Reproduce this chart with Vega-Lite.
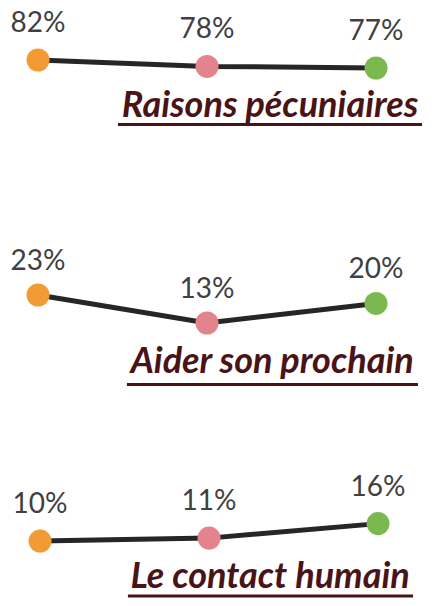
{
  "$schema": "https://vega.github.io/schema/vega-lite/v6.json",
  "background": "white",
  "padding": 0,
  "spacing": 0,
  "config": {"view": {"stroke": null}, "concat": {"spacing": 0}},
  "datasets": {
    "pts": [
      {"panel": "Raisons pécuniaires", "groupe": "Groupe 1", "idx": 0, "value": 0.82},
      {"panel": "Raisons pécuniaires", "groupe": "Groupe 2", "idx": 1, "value": 0.78},
      {"panel": "Raisons pécuniaires", "groupe": "Groupe 3", "idx": 2, "value": 0.77},
      {"panel": "Aider son prochain", "groupe": "Groupe 1", "idx": 0, "value": 0.23},
      {"panel": "Aider son prochain", "groupe": "Groupe 2", "idx": 1, "value": 0.13},
      {"panel": "Aider son prochain", "groupe": "Groupe 3", "idx": 2, "value": 0.20},
      {"panel": "Le contact humain", "groupe": "Groupe 1", "idx": 0, "value": 0.10},
      {"panel": "Le contact humain", "groupe": "Groupe 2", "idx": 1, "value": 0.11},
      {"panel": "Le contact humain", "groupe": "Groupe 3", "idx": 2, "value": 0.16}
    ]
  },
  "vconcat": [
    {
      "width": 434, "height": 202,
      "layer": [
        {"data": {"name": "pts"}, "transform": [{"filter": "datum.panel == 'Raisons pécuniaires'"}],
         "mark": {"type": "line", "color": "#262626", "strokeWidth": 5},
         "encoding": {
           "x": {"field": "idx", "type": "quantitative", "scale": {"domain": [-0.225, 2.343], "zero": false, "nice": false}, "axis": null},
           "y": {"field": "value", "type": "quantitative", "scale": {"domain": [-0.0675, 1.195], "zero": false, "nice": false}, "axis": null}}},
        {"data": {"name": "pts"}, "transform": [{"filter": "datum.panel == 'Raisons pécuniaires'"}],
         "mark": {"type": "circle", "size": 530, "opacity": 1},
         "encoding": {
           "x": {"field": "idx", "type": "quantitative", "scale": {"domain": [-0.225, 2.343], "zero": false, "nice": false}, "axis": null},
           "y": {"field": "value", "type": "quantitative", "scale": {"domain": [-0.0675, 1.195], "zero": false, "nice": false}, "axis": null},
           "color": {"field": "groupe", "type": "nominal", "scale": {"domain": ["Groupe 1", "Groupe 2", "Groupe 3"], "range": ["#F29B34", "#E3848D", "#7AB94F"]}, "legend": null}}},
        {"data": {"name": "pts"}, "transform": [{"filter": "datum.panel == 'Raisons pécuniaires'"}],
         "mark": {"type": "text", "dy": -36, "fontSize": 28, "font": "Lato", "color": "#404040", "baseline": "middle"},
         "encoding": {
           "x": {"field": "idx", "type": "quantitative", "scale": {"domain": [-0.225, 2.343], "zero": false, "nice": false}, "axis": null},
           "y": {"field": "value", "type": "quantitative", "scale": {"domain": [-0.0675, 1.195], "zero": false, "nice": false}, "axis": null},
           "text": {"field": "value", "type": "quantitative", "format": ".0%"}}},
        {"data": {"values": [{"titre": "Raisons pécuniaires"}]},
         "mark": {"type": "text", "font": "Lato", "fontSize": 36, "fontWeight": "bold", "fontStyle": "italic", "color": "#4A1417", "align": "center", "baseline": "alphabetic"},
         "encoding": {"text": {"field": "titre", "type": "nominal"},
           "x": {"datum": 1.373, "type": "quantitative", "scale": {"domain": [-0.225, 2.343], "zero": false, "nice": false}, "axis": null},
           "y": {"datum": 0.464, "type": "quantitative", "scale": {"domain": [-0.0675, 1.195], "zero": false, "nice": false}, "axis": null}}},
        {"data": {"values": [{"titre": "Raisons pécuniaires"}]},
         "mark": {"type": "rule", "color": "#4A1417", "strokeWidth": 2.8},
         "encoding": {
           "x": {"datum": 0.473, "type": "quantitative", "scale": {"domain": [-0.225, 2.343], "zero": false, "nice": false}, "axis": null},
           "x2": {"datum": 2.272},
           "y": {"datum": 0.417, "type": "quantitative", "scale": {"domain": [-0.0675, 1.195], "zero": false, "nice": false}, "axis": null}}}
      ]
    },
    {
      "width": 434, "height": 202,
      "layer": [
        {"data": {"name": "pts"}, "transform": [{"filter": "datum.panel == 'Aider son prochain'"}],
         "mark": {"type": "line", "color": "#262626", "strokeWidth": 5},
         "encoding": {
           "x": {"field": "idx", "type": "quantitative", "scale": {"domain": [-0.225, 2.343], "zero": false, "nice": false}, "axis": null},
           "y": {"field": "value", "type": "quantitative", "scale": {"domain": [-0.1593, 0.5621], "zero": false, "nice": false}, "axis": null}}},
        {"data": {"name": "pts"}, "transform": [{"filter": "datum.panel == 'Aider son prochain'"}],
         "mark": {"type": "circle", "size": 530, "opacity": 1},
         "encoding": {
           "x": {"field": "idx", "type": "quantitative", "scale": {"domain": [-0.225, 2.343], "zero": false, "nice": false}, "axis": null},
           "y": {"field": "value", "type": "quantitative", "scale": {"domain": [-0.1593, 0.5621], "zero": false, "nice": false}, "axis": null},
           "color": {"field": "groupe", "type": "nominal", "scale": {"domain": ["Groupe 1", "Groupe 2", "Groupe 3"], "range": ["#F29B34", "#E3848D", "#7AB94F"]}, "legend": null}}},
        {"data": {"name": "pts"}, "transform": [{"filter": "datum.panel == 'Aider son prochain'"}],
         "mark": {"type": "text", "dy": -33, "fontSize": 28, "font": "Lato", "color": "#404040", "baseline": "middle"},
         "encoding": {
           "x": {"field": "idx", "type": "quantitative", "scale": {"domain": [-0.225, 2.343], "zero": false, "nice": false}, "axis": null},
           "y": {"field": "value", "type": "quantitative", "scale": {"domain": [-0.1593, 0.5621], "zero": false, "nice": false}, "axis": null},
           "text": {"field": "value", "type": "quantitative", "format": ".0%"}}},
        {"data": {"values": [{"titre": "Aider son prochain"}]},
         "mark": {"type": "text", "font": "Lato", "fontSize": 36, "fontWeight": "bold", "fontStyle": "italic", "color": "#4A1417", "align": "center", "baseline": "alphabetic"},
         "encoding": {"text": {"field": "titre", "type": "nominal"},
           "x": {"datum": 1.385, "type": "quantitative", "scale": {"domain": [-0.225, 2.343], "zero": false, "nice": false}, "axis": null},
           "y": {"datum": -0.0486, "type": "quantitative", "scale": {"domain": [-0.1593, 0.5621], "zero": false, "nice": false}, "axis": null}}},
        {"data": {"values": [{"titre": "Aider son prochain"}]},
         "mark": {"type": "rule", "color": "#4A1417", "strokeWidth": 2.8},
         "encoding": {
           "x": {"datum": 0.526, "type": "quantitative", "scale": {"domain": [-0.225, 2.343], "zero": false, "nice": false}, "axis": null},
           "x2": {"datum": 2.248},
           "y": {"datum": -0.0897, "type": "quantitative", "scale": {"domain": [-0.1593, 0.5621], "zero": false, "nice": false}, "axis": null}}}
      ]
    },
    {
      "width": 434, "height": 202,
      "layer": [
        {"data": {"name": "pts"}, "transform": [{"filter": "datum.panel == 'Le contact humain'"}],
         "mark": {"type": "line", "color": "#262626", "strokeWidth": 5},
         "encoding": {
           "x": {"field": "idx", "type": "quantitative", "scale": {"domain": [-0.237, 2.331], "zero": false, "nice": false}, "axis": null},
           "y": {"field": "value", "type": "quantitative", "scale": {"domain": [-0.1241, 0.5725], "zero": false, "nice": false}, "axis": null}}},
        {"data": {"name": "pts"}, "transform": [{"filter": "datum.panel == 'Le contact humain'"}],
         "mark": {"type": "circle", "size": 530, "opacity": 1},
         "encoding": {
           "x": {"field": "idx", "type": "quantitative", "scale": {"domain": [-0.237, 2.331], "zero": false, "nice": false}, "axis": null},
           "y": {"field": "value", "type": "quantitative", "scale": {"domain": [-0.1241, 0.5725], "zero": false, "nice": false}, "axis": null},
           "color": {"field": "groupe", "type": "nominal", "scale": {"domain": ["Groupe 1", "Groupe 2", "Groupe 3"], "range": ["#F29B34", "#E3848D", "#7AB94F"]}, "legend": null}}},
        {"data": {"name": "pts"}, "transform": [{"filter": "datum.panel == 'Le contact humain'"}],
         "mark": {"type": "text", "dy": -36, "fontSize": 28, "font": "Lato", "color": "#404040", "baseline": "middle"},
         "encoding": {
           "x": {"field": "idx", "type": "quantitative", "scale": {"domain": [-0.237, 2.331], "zero": false, "nice": false}, "axis": null},
           "y": {"field": "value", "type": "quantitative", "scale": {"domain": [-0.1241, 0.5725], "zero": false, "nice": false}, "axis": null},
           "text": {"field": "value", "type": "quantitative", "format": ".0%"}}},
        {"data": {"values": [{"titre": "Le contact humain"}]},
         "mark": {"type": "text", "font": "Lato", "fontSize": 36, "fontWeight": "bold", "fontStyle": "italic", "color": "#4A1417", "align": "center", "baseline": "alphabetic"},
         "encoding": {"text": {"field": "titre", "type": "nominal"},
           "x": {"datum": 1.361, "type": "quantitative", "scale": {"domain": [-0.237, 2.331], "zero": false, "nice": false}, "axis": null},
           "y": {"datum": -0.062, "type": "quantitative", "scale": {"domain": [-0.1241, 0.5725], "zero": false, "nice": false}, "axis": null}}},
        {"data": {"values": [{"titre": "Le contact humain"}]},
         "mark": {"type": "rule", "color": "#4A1417", "strokeWidth": 2.8},
         "encoding": {
           "x": {"datum": 0.52, "type": "quantitative", "scale": {"domain": [-0.237, 2.331], "zero": false, "nice": false}, "axis": null},
           "x2": {"datum": 2.207},
           "y": {"datum": -0.0896, "type": "quantitative", "scale": {"domain": [-0.1241, 0.5725], "zero": false, "nice": false}, "axis": null}}}
      ]
    }
  ]
}
